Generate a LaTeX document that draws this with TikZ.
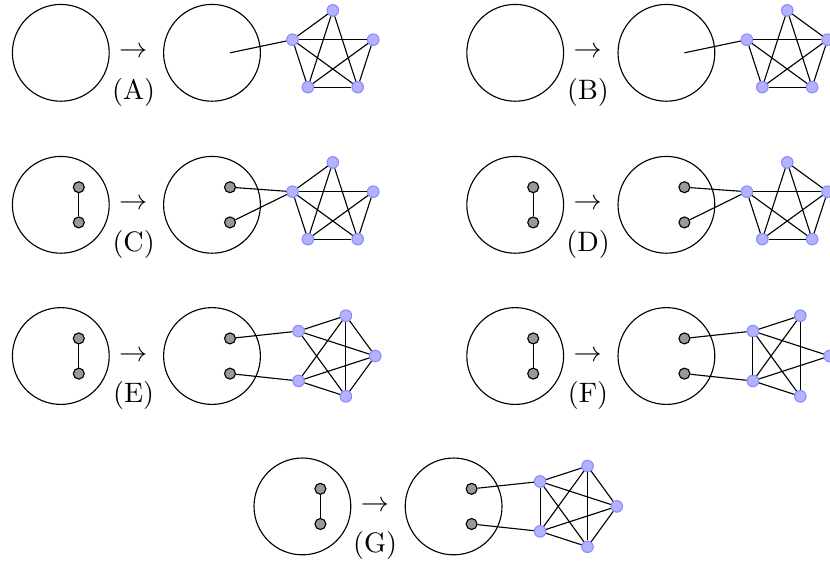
\documentclass[tikz,border=0pt]{standalone}
\usepackage{tikz}
\usetikzlibrary{positioning,calc}

\begin{document}
\begin{tikzpicture}[
    blob/.style={circle, draw, inner sep=0pt, minimum size=1.21cm},
    pin/.style={circle, draw, fill=black!40, inner sep=0pt, minimum size=3.9pt},
    vtx/.style={circle, draw=blue!45, fill=blue!30, inner sep=0pt, minimum size=4.1pt}
]
    \useasboundingbox (0,0) rectangle (10.375,-7);

    % blob before -> blob after, with the step letter
    \foreach \p/\x/\y in {A/0.76/-0.66, B/6.44/-0.66, C/0.76/-2.56, D/6.44/-2.56, E/0.76/-4.45, F/6.44/-4.45, G/3.78/-6.33} {
        \node[blob] (\p-in) at (\x,\y) {};
        \node (\p-arr) at (\x+0.905,\y) {$\rightarrow$};
        \node (\p-lab) at (\x+0.91,\y-0.49) {(\p)};
        \node[blob] (\p-out) at (\x+1.89,\y) {};
        \coordinate (\p-mid) at (\x+2.115,\y);
    }

    % the two pins, joined in the first blob
    \foreach \p/\x/\y in {C/0.76/-2.56, D/6.44/-2.56, E/0.76/-4.45, F/6.44/-4.45, G/3.78/-6.33} {
        \node[pin] (\p-a) at (\x+0.225,\y+0.22) {};
        \node[pin] (\p-b) at (\x+0.225,\y-0.22) {};
        \node[pin] (\p-c) at (\x+2.115,\y+0.22) {};
        \node[pin] (\p-d) at (\x+2.115,\y-0.22) {};
        \draw (\p-a) -- (\p-b);
    }

    % five vertices and the edges kept
    \foreach \p/\x/\y/\r/\e in {
        A/0.76/-0.66/18/{1/2,1/3,1/4,2/3,2/4,2/5,3/4,3/5,4/5},
        B/6.44/-0.66/18/{1/3,1/4,1/5,2/3,2/4,2/5,3/4,3/5,4/5},
        C/0.76/-2.56/18/{1/2,1/3,1/4,2/3,2/4,2/5,3/4,3/5,4/5},
        D/6.44/-2.56/18/{1/3,1/4,1/5,2/3,2/4,2/5,3/4,3/5,4/5},
        E/0.76/-4.45/-72/{1/2,1/3,1/4,1/5,2/3,2/4,2/5,3/5,4/5},
        F/6.44/-4.45/-72/{1/3,1/4,2/3,2/4,2/5,3/4,3/5,4/5},
        G/3.78/-6.33/-72/{1/2,1/3,1/4,1/5,2/3,2/4,2/5,3/4,3/5,4/5}} {
        \foreach \i in {1,...,5}
            \node[vtx] (\p\i) at ($(\x+3.4,\y)+({\r+72*\i}:0.53)$) {};
        \foreach \a/\b in \e
            \draw (\p\a) -- (\p\b);
    }

    \draw (A-mid) -- (A2);
    \draw (B-mid) -- (B2);
    \foreach \p in {C,D} {
        \draw (\p-c) -- (\p2);
        \draw (\p-d) -- (\p2);
    }
    \foreach \p in {E,F,G} {
        \draw (\p-c) -- (\p3);
        \draw (\p-d) -- (\p4);
    }
\end{tikzpicture}
\end{document}
